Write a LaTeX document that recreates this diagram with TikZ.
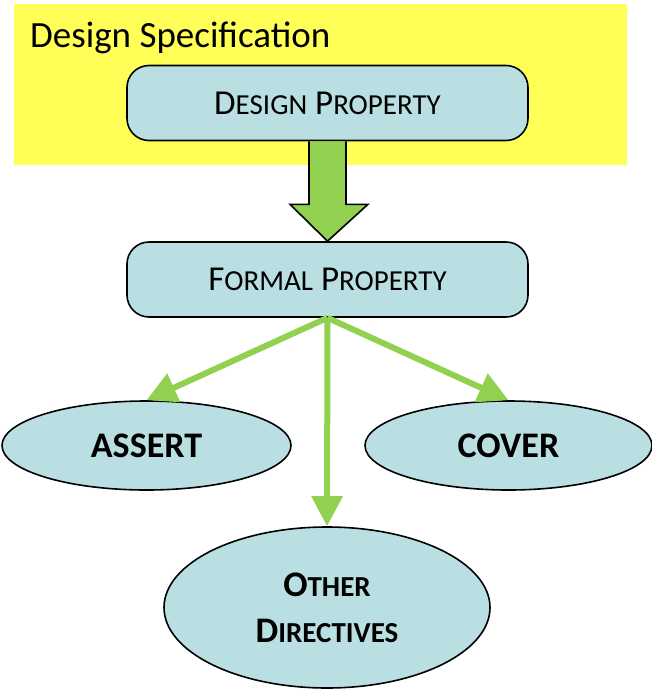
\documentclass[tikz,border=0pt]{standalone}
\usepackage{fontspec}
\setmainfont{Carlito}
\usetikzlibrary{shapes.geometric,arrows.meta,calc}
\definecolor{specyellow}{HTML}{FFFF57}
\definecolor{boxblue}{HTML}{B9DFE3}
\definecolor{arrgreen}{HTML}{92D050}
\newcommand{\fakesc}[2]{#1{\fontsize{29}{30}\selectfont #2}}
\begin{document}
\begin{tikzpicture}[x=1pt,y=-1pt,
  propbox/.style={draw=black,line width=1.6pt,fill=boxblue,rounded corners=22pt,
    minimum width=401pt,minimum height=75pt,inner sep=0pt,
    font=\fontsize{35}{40}\selectfont},
  direll/.style={draw=black,line width=1.6pt,fill=boxblue,ellipse,inner sep=0pt,
    font=\fontsize{36}{42}\selectfont\bfseries},
  greenarrow/.style={draw=arrgreen,line width=6pt,
    -{Triangle[length=30pt,width=30pt]}}
]
\useasboundingbox (0,0) rectangle (652,691);
\fill[specyellow] (14,4) rectangle (627,165);
\node[anchor=base west,font=\fontsize{37}{44}\selectfont,inner sep=0pt] (spec) at (30,47) {Design Specification};
\node[propbox] (design) at (327.5,103) {\fakesc{D}{ESIGN} \fakesc{P}{ROPERTY}};
\node[propbox] (formal) at (327.5,279.5) {\fakesc{F}{ORMAL} \fakesc{P}{ROPERTY}};
% big block arrow
\draw[line width=1.6pt,fill=arrgreen,line join=miter]
  ($(design.south)+(-18.5,0)$) -- ($(design.south)+(-18.5,63)$) --
  ($(design.south)+(-37.5,63)$) -- (formal.north) --
  ($(design.south)+(40.5,63)$) -- ($(design.south)+(18.5,63)$) --
  ($(design.south)+(18.5,0)$);
\node[direll,minimum width=289pt,minimum height=89pt] (assert) at (146.5,445.5) {ASSERT};
\node[direll,minimum width=287pt,minimum height=89pt] (cover) at (508.5,445.5) {COVER};
\node[direll,minimum width=326pt,minimum height=161pt,align=center] (other) at (327,607.5)
  {{\fontsize{36}{42}\selectfont O}{\fontsize{29}{30}\selectfont THER}\\[4pt]{\fontsize{36}{42}\selectfont D}{\fontsize{29}{30}\selectfont IRECTIVES}};
\draw[greenarrow] (formal.south) -- (assert.north);
\draw[greenarrow] (formal.south) -- (cover.north);
\draw[greenarrow] (formal.south) -- (other.north);
\end{tikzpicture}
\end{document}
